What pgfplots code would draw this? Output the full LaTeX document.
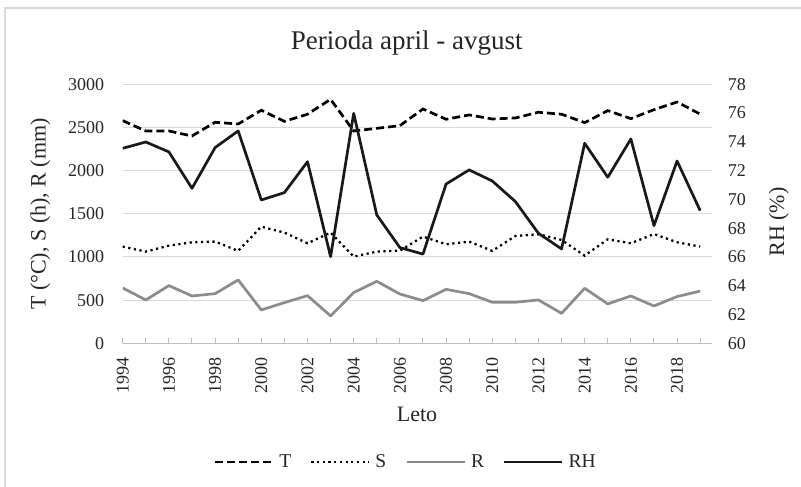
\documentclass[border=0pt]{standalone}
\usepackage{fontspec}
\setmainfont{Liberation Serif}
\usepackage{pgfplots}
\usepackage{pgfplotstable}
\pgfplotsset{compat=1.18}

\definecolor{gridgray}{HTML}{D9D9D9}
\definecolor{axisgray}{HTML}{BFBFBF}
\definecolor{rgray}{HTML}{8C8C8C}
\definecolor{txt}{HTML}{262626}

% leto, T, S (h), R (mm), RH (%)
\pgfplotstableread{
year T    S    R   RH
1994 2579 1120 641 73.55
1995 2459 1062 502 73.99
1996 2459 1131 668 73.30
1997 2401 1170 548 70.77
1998 2560 1178 575 73.60
1999 2540 1070 734 74.76
2000 2699 1351 386 69.96
2001 2571 1282 471 70.47
2002 2653 1158 552 72.62
2003 2826 1282 317 66.02
2004 2459 1004 587 75.98
2005 2490 1062 718 68.92
2006 2521 1073 571 66.65
2007 2714 1236 494 66.20
2008 2595 1147 625 71.07
2009 2645 1178 575 72.05
2010 2598 1070 475 71.28
2011 2610 1243 475 69.85
2012 2676 1263 502 67.64
2013 2653 1197 347 66.56
2014 2556 1015 637 73.90
2015 2695 1205 456 71.54
2016 2602 1158 548 74.20
2017 2706 1266 432 68.18
2018 2795 1170 541 72.67
2019 2654 1120 605 69.22
}\clima

\pgfplotsset{
  common/.style={
    at={(122.7bp,143.7bp)}, anchor=south west,
    scale only axis, width=589bp, height=259bp,
    xmin=1994, xmax=2019.5,
    /pgf/number format/assume math mode=true,
    /pgf/number format/1000 sep={},
  },
  tkl/.style={font=\fontsize{18bp}{20bp}\selectfont, text=txt},
}

\begin{document}
\begin{tikzpicture}[x=1bp,y=1bp]
\useasboundingbox (0,0) rectangle (801,487);
\fill[white] (0,0) rectangle (801,487);
\draw[gridgray, line width=1.2bp] (5,-10) -- (5,479) -- (830,479);

\begin{axis}[
  common,
  ymin=0, ymax=3000, ytick={0,500,...,3000},
  axis x line*=bottom, axis y line*=left,
  y axis line style={draw=none},
  x axis line style={axisgray, line width=1bp, -},
  ytick style={draw=none},
  xtick={1994,1996,...,2018},
  minor xtick={1995,1997,...,2019},
  tick align=inside,
  major tick length=5bp, minor tick length=5bp,
  xtick style={axisgray, line width=1bp},
  minor x tick style={axisgray, line width=1bp},
  ymajorgrids, major grid style={gridgray, line width=1bp},
  yticklabel style={tkl, anchor=east, inner sep=0pt},
  yticklabel shift=18.5bp,
  xticklabel style={tkl, rotate=90, anchor=east, inner sep=0pt},
  xticklabel shift=14bp,
  legend columns=4,
  legend style={draw=none, fill=none, at={(axis description cs:0.483,-0.458)}, anchor=center,
    font=\fontsize{19.5bp}{21bp}\selectfont, text=txt,
    nodes={inner xsep=5bp},
    /tikz/every even column/.append style={column sep=14bp}},
  legend image code/.code={\draw[#1] (0bp,0bp) -- (58bp,0bp);},
  legend cell align=left,
]
\addplot[black, line width=2.7bp, dash pattern=on 8bp off 4bp] table[x=year, y=T] {\clima};
\addlegendentry{T}
\addplot[black, line width=2.3bp, dash pattern=on 2.2bp off 3.5bp] table[x=year, y=S] {\clima};
\addlegendentry{S}
\addplot[rgray, line width=2.7bp, line join=round] table[x=year, y=R] {\clima};
\addlegendentry{R}
\addlegendimage{black!90, line width=2.7bp}
\addlegendentry{RH}
\end{axis}

\begin{axis}[
  common,
  ymin=60, ymax=78, ytick={60,62,...,78},
  axis x line=none, axis y line*=right,
  y axis line style={draw=none},
  ytick style={draw=none},
  yticklabel style={tkl, anchor=west, inner sep=0pt},
  yticklabel shift=16bp,
]
\addplot[black!90, line width=2.7bp, line join=round] table[x=year, y=RH] {\clima};
\end{axis}

\node[anchor=base, text=txt, font=\fontsize{27bp}{30bp}\selectfont] at (406.7,437) {Perioda april - avgust};
\node[anchor=base, rotate=90, text=txt, font=\fontsize{22bp}{24bp}\selectfont] at (45.5,273) {T (°C), S (h), R (mm)};
\node[anchor=base, rotate=90, text=txt, font=\fontsize{22bp}{24bp}\selectfont] at (784,265) {RH (\%)};
\node[anchor=base, text=txt, font=\fontsize{22bp}{24bp}\selectfont] at (417,65) {Leto};
\end{tikzpicture}
\end{document}
